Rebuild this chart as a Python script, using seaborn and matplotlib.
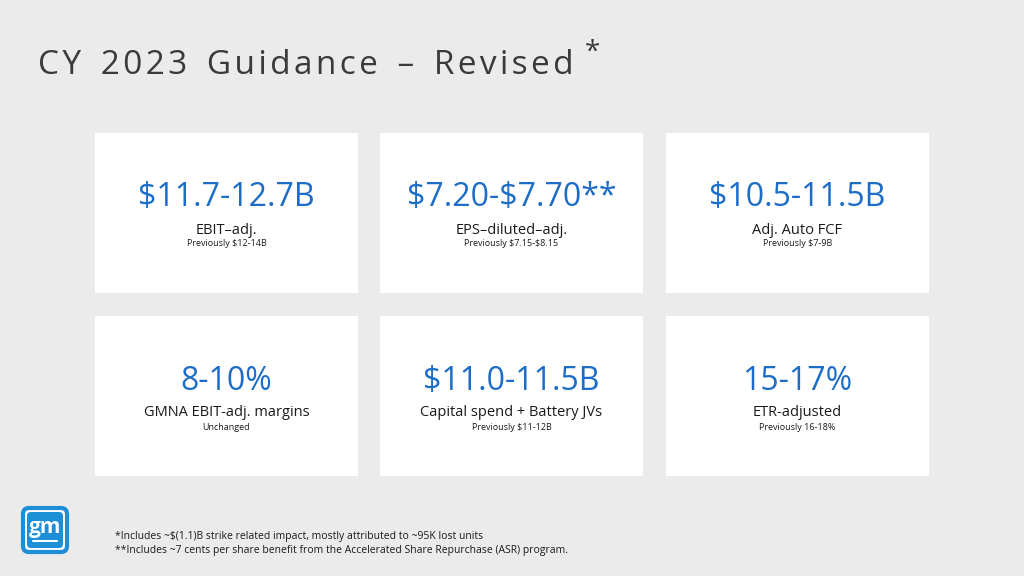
import matplotlib
matplotlib.use("Agg")
import matplotlib.pyplot as plt
from matplotlib.patches import Rectangle, FancyBboxPatch
import seaborn as sns

values = ["$11.7-12.7B", "$7.20-$7.70**", "$10.5-11.5B", "8-10%", "$11.0-11.5B", "15-17%"]
labels = ["EBIT\u2013adj.", "EPS\u2013diluted\u2013adj.", "Adj. Auto FCF",
          "GMNA EBIT-adj. margins", "Capital spend + Battery JVs", "ETR-adjusted"]
subs = ["Previously $12-14B", "Previously $7.15-$8.15", "Previously $7-9B",
        "Unchanged", "Previously $11-12B", "Previously 16-18%"]
title = "CY 2023 Guidance \u2013 Revised"
notes = ["*Includes ~$(1.1)B strike related impact, mostly attributed to ~95K lost units",
         "**Includes ~7 cents per share benefit from the Accelerated Share Repurchase (ASR) program."]

sns.set_theme(style="white", font="Open Sans")
fig = plt.figure(figsize=(10.24, 5.76), dpi=100)
fig.patch.set_facecolor("#ebebeb")
ax = fig.add_axes([0, 0, 1, 1])
ax.set_xlim(0, 1024); ax.set_ylim(576, 0); ax.axis("off")
ax.set_facecolor("#ebebeb")

blue = "#1c6cc8"
xs = [95, 380, 666]; ys = [133, 316]; w, h = 263, 160
for i, (v, l, s) in enumerate(zip(values, labels, subs)):
    x = xs[i % 3]; y = ys[i // 3]
    ax.add_patch(Rectangle((x, y), w, h, facecolor="white", edgecolor="none"))
    cx = x + w / 2
    ax.text(cx, y + 65, v, color=blue, fontsize=23, fontweight="medium", ha="center", va="center", parse_math=False)
    ax.text(cx, y + 97, l, color="#1a1a1a", fontsize=10.5, ha="center", va="center", parse_math=False)
    ax.text(cx, y + 111, s, color="#1a1a1a", fontsize=6.5, ha="center", va="center", parse_math=False)

spaced = "\u200a".join(title).replace("\u200a \u200a", "\u2009 \u2009")
ax.text(38, 65, spaced, color="#3a3a3a", fontsize=24, ha="left", va="center", parse_math=False)
ax.text(585, 53, "*", color="#3a3a3a", fontsize=20, ha="left", va="center")

ax.add_patch(FancyBboxPatch((23, 508), 44, 44, boxstyle="round,pad=0,rounding_size=6",
                            facecolor="white", edgecolor="#1c8fd6", linewidth=3))
ax.add_patch(FancyBboxPatch((27, 512), 36, 36, boxstyle="round,pad=0,rounding_size=4",
                            facecolor="#1c8fd6", edgecolor="none"))
ax.text(45, 527, "gm", color="white", fontsize=15, fontweight="bold", ha="center", va="center")
ax.plot([33, 57], [541, 541], color="white", lw=1.5)

ax.text(115, 537, notes[0], color="#1a1a1a", fontsize=7.5, ha="left", va="center", parse_math=False)
ax.text(115, 551, notes[1], color="#1a1a1a", fontsize=7.5, ha="left", va="center", parse_math=False)

fig.savefig("out.png", dpi=100, facecolor=fig.get_facecolor())
